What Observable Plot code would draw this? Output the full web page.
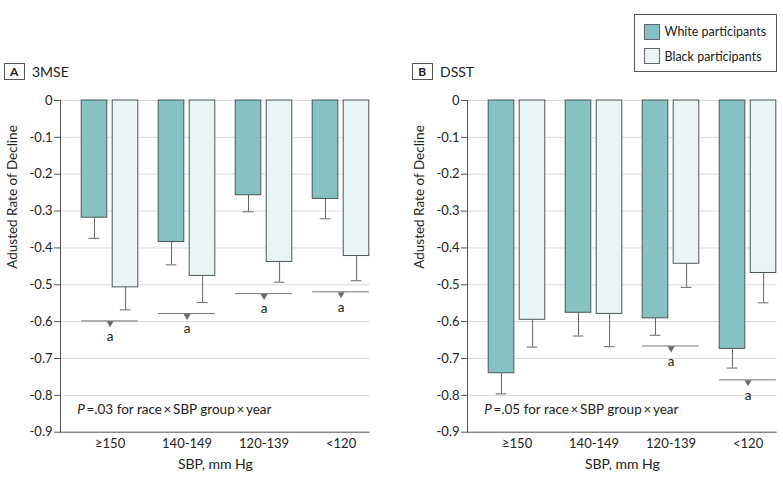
<!DOCTYPE html>
<html><head><meta charset="utf-8">
<script src="https://cdn.jsdelivr.net/npm/d3@7"></script>
<script src="https://cdn.jsdelivr.net/npm/@observablehq/plot@0.6"></script>
<style>
  html, body { margin: 0; padding: 0; }
  body { width: 783px; height: 486px; overflow: hidden; position: relative; background: #fff;
         font-family: Lato, "Noto Sans", sans-serif; color: #222; }
  .panel { position: absolute; top: 85px; }
  #panelA { left: 0px; }
  #panelB { left: 407px; }
  .title { position: absolute; top: 63px; height: 17px; display: flex; align-items: center; font-size: 14px; white-space: nowrap; }
  .title .box { box-sizing: border-box; width: 20.5px; height: 17.5px; border: 1px solid #555; font-weight: bold;
                font-size: 12px; display: flex; align-items: center; justify-content: center; margin-right: 7.5px; }
  #titleA { left: 4px; }
  #titleB { left: 412px; }
  .legend { position: absolute; left: 634px; top: 14px; width: 143px; height: 58px; box-sizing: border-box;
            border: 1px solid #555; font-size: 12.5px; }
  .legend .item { position: absolute; left: 8.5px; display: flex; align-items: center; height: 16px; white-space: nowrap; }
  .legend .sw { box-sizing: border-box; width: 16px; height: 16px; border: 1px solid #666; margin-right: 5px; flex: none; }
</style>
</head><body>
<div class="legend" id="legend"></div>
<div class="title" id="titleA"></div>
<div class="title" id="titleB"></div>
<div class="panel" id="panelA"></div>
<div class="panel" id="panelB"></div>
<script>
// ---- data ----
const groups = ["≥150", "140-149", "120-139", "<120"];
const races = ["White participants", "Black participants"];
const panelLetters = ["A", "B"];
const panelNames = ["3MSE", "DSST"];
const yTicks = [0, -0.1, -0.2, -0.3, -0.4, -0.5, -0.6, -0.7, -0.8, -0.9];
const yLabel = "Adusted Rate of Decline";
const xLabel = "SBP, mm Hg";
const sigMark = "a";

// 3MSE
const mseWhite   = [-0.318, -0.384, -0.257, -0.267];
const mseWhiteLo = [-0.374, -0.446, -0.302, -0.321];
const mseBlack   = [-0.507, -0.476, -0.438, -0.422];
const mseBlackLo = [-0.568, -0.548, -0.493, -0.489];
const mseSig     = [-0.598, -0.578, -0.524, -0.519];
const mseP = "=.03 for race\u2009×\u2009SBP group\u2009×\u2009year";

// DSST
const dsstWhite   = [-0.740, -0.576, -0.591, -0.674];
const dsstWhiteLo = [-0.796, -0.639, -0.637, -0.726];
const dsstBlack   = [-0.595, -0.579, -0.443, -0.468];
const dsstBlackLo = [-0.669, -0.668, -0.507, -0.549];
const dsstSig     = [null, null, -0.666, -0.758];
const dsstP = "=.05 for race\u2009×\u2009SBP group\u2009×\u2009year";

const colors = ["#85c2c1", "#e9f4f5"];
const FONT = "Lato, 'Noto Sans', sans-serif";

function panel(white, whiteLo, black, blackLo, sig, pText) {
  const rows = groups.map((g, i) => ({g, w: white[i], wl: whiteLo[i], b: black[i], bl: blackLo[i], s: sig[i]}));
  const sigRows = rows.filter(d => d.s != null);
  const fmt = d => d === 0 ? "0" : d.toFixed(1);
  return Plot.plot({
    width: 376, height: 401,
    marginTop: 15, marginBottom: 54.3, marginLeft: 60, marginRight: 6.3,
    style: {fontFamily: FONT, fontSize: "13px", color: "#222", background: "transparent"},
    x: {type: "band", domain: groups, padding: 0},
    y: {domain: [-0.9, 0]},
    marks: [
      Plot.ruleY(yTicks.filter(t => t > -0.9), {stroke: "#dadada"}),
      // error bars (drawn below the bars)
      Plot.ruleX(rows, {x: "g", y1: "w", y2: "wl", dx: -5.5, stroke: "#666"}),
      Plot.tickY(rows, {x: "g", y: "wl", insetLeft: 27.7, insetRight: 38.7, stroke: "#666"}),
      Plot.ruleX(rows, {x: "g", y1: "b", y2: "bl", dx: 25.6, stroke: "#666"}),
      Plot.tickY(rows, {x: "g", y: "bl", insetLeft: 58.8, insetRight: 7.6, stroke: "#666"}),
      // bars
      Plot.barY(rows, {x: "g", y: "w", fill: colors[0], stroke: "#4a5757", insetLeft: 20.2, insetRight: 31.2}),
      Plot.barY(rows, {x: "g", y: "b", fill: colors[1], stroke: "#4a5757", insetLeft: 51.2, insetRight: 0.2}),
      // significance markers
      Plot.tickY(sigRows, {x: "g", y: "s", insetLeft: 20.2, insetRight: 0.2, stroke: "#777"}),
      Plot.dot(sigRows, {x: "g", y: "s", symbol: "triangle", r: 2.6, rotate: 180, fill: "#6b6b6b", stroke: "none", dx: 10.1, dy: 2.4}),
      Plot.text(sigRows, {x: "g", y: "s", text: () => sigMark, dx: 10.1, dy: 15.4, fontSize: 13.5}),
      // frame lines
      Plot.ruleY([-0.9], {stroke: "#555"}),
      Plot.frame({anchor: "left", stroke: "#555"}),
      // axes
      Plot.axisY(yTicks, {tickSize: 6, tickPadding: 2, tickFormat: fmt, label: null, stroke: "#555"}),
      Plot.axisX({tickSize: 0, tickPadding: 7, dx: 10.1, label: null}),
      Plot.text([yLabel], {frameAnchor: "left", rotate: -90, dx: -48, dy: 2.4, fontSize: 13.5}),
      Plot.text([xLabel], {frameAnchor: "bottom", dy: 36.6, fontSize: 14}),
      // P annotation
      Plot.text(["P"], {frameAnchor: "bottom-left", textAnchor: "start", dx: 16.7, dy: -18.4, fontStyle: "italic", fontSize: 13.5}),
      Plot.text([pText], {frameAnchor: "bottom-left", textAnchor: "start", dx: 26, dy: -18.4, fontSize: 13.5})
    ]
  });
}

document.getElementById("panelA").append(panel(mseWhite, mseWhiteLo, mseBlack, mseBlackLo, mseSig, mseP));
document.getElementById("panelB").append(panel(dsstWhite, dsstWhiteLo, dsstBlack, dsstBlackLo, dsstSig, dsstP));

// titles
[["titleA", 0], ["titleB", 1]].forEach(([id, i]) => {
  const el = document.getElementById(id);
  const box = document.createElement("div"); box.className = "box"; box.textContent = panelLetters[i];
  const name = document.createElement("span"); name.textContent = panelNames[i];
  el.append(box, name);
});
// legend
const legend = document.getElementById("legend");
races.forEach((r, i) => {
  const item = document.createElement("div"); item.className = "item";
  item.style.top = (8.5 + i * 24.5) + "px";
  const sw = document.createElement("div"); sw.className = "sw"; sw.style.background = colors[i];
  const t = document.createElement("span"); t.textContent = r;
  item.append(sw, t); legend.append(item);
});
</script>
</body></html>
